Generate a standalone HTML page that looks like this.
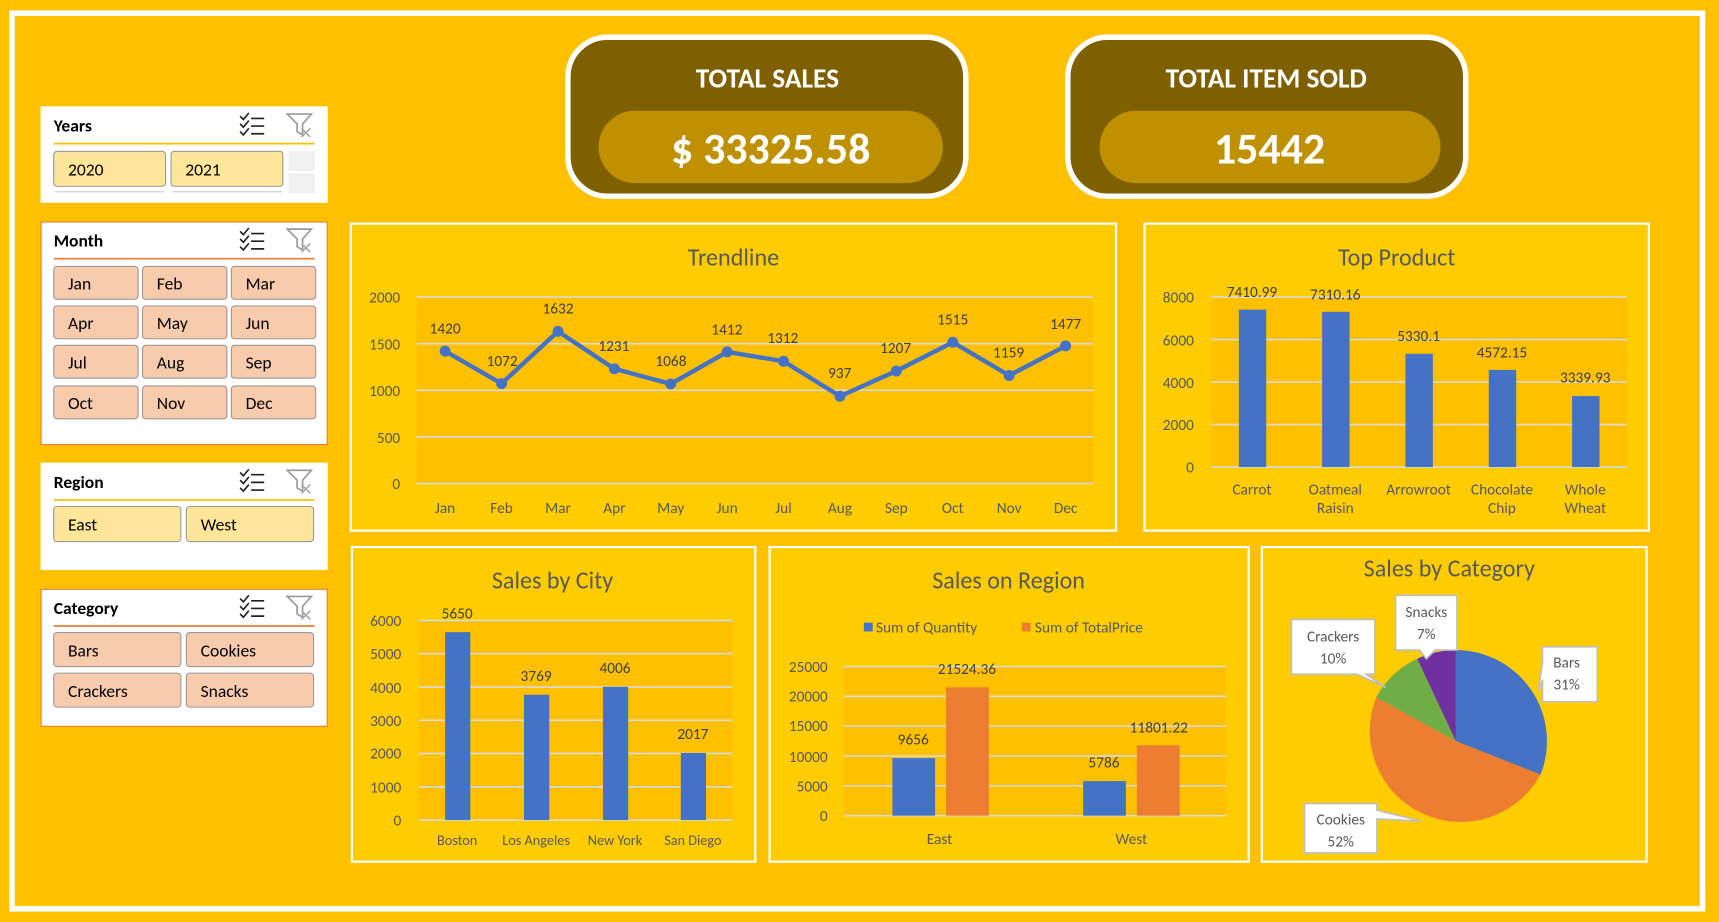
<!DOCTYPE html>
<html><head><meta charset="utf-8"><style>
html,body{margin:0;padding:0;background:#FFC000;}
svg{display:block;font-family:"Carlito","Liberation Sans",sans-serif;}
.ax{font-size:14px;fill:#595959;}
.dl{font-size:14px;fill:#404040;}
.tt{font-size:22px;fill:#595959;text-anchor:middle;}
.st{font-size:16px;font-weight:bold;fill:#000;}
.bt{font-size:16px;fill:#000;}
.g{stroke:#d9d9d9;stroke-width:1.5;}
</style></head><body>
<svg width="1719" height="922" viewBox="0 0 1568 841" xmlns="http://www.w3.org/2000/svg">
<rect x="0" y="0" width="1568" height="841" fill="#FFC000"/>
<rect x="11" y="12" width="1542" height="817" fill="none" stroke="#fff" stroke-width="5"/>

<defs>
<g id="icons">
<path d="M219,106 l3,3 5,-6 M219,113 l3,3 5,-6 M219,120 l3,3 5,-6" stroke="#222" stroke-width="1.5" fill="none"/>
<path d="M229,108 h12 M229,115 h12 M229,122 h12" stroke="#222" stroke-width="1.5"/>
<path d="M262,104 h22 l-8,9 v10 l-5,-3 v-7 z" fill="none" stroke="#999" stroke-width="1.5"/>
<path d="M275,117 l8,8 M283,117 l-8,8" stroke="#aaa" stroke-width="1.5"/>
</g>
</defs>
<rect x="37" y="97" width="262" height="88" fill="#fff"/>
<text x="49" y="120" class="st">Years</text>
<use href="#icons"/>
<line x1="49" y1="131" x2="287" y2="131" stroke="#FFC000" stroke-width="1.5"/>
<rect x="49" y="138" width="102" height="32" rx="3" fill="#FFE699" stroke="#999"/>
<rect x="156" y="138" width="102" height="32" rx="3" fill="#FFE699" stroke="#999"/>
<text x="62" y="160" class="bt">2020</text><text x="169" y="160" class="bt">2021</text>
<line x1="50" y1="175" x2="150" y2="175" stroke="#ccc"/><line x1="157" y1="175" x2="257" y2="175" stroke="#ccc"/>
<rect x="263" y="138" width="24" height="18" fill="#f0f0f0"/><rect x="263" y="158" width="24" height="18" fill="#f0f0f0"/>

<rect x="37.5" y="202.5" width="261" height="203" fill="#fff" stroke="#ED7D31"/>
<text x="49" y="225" class="st">Month</text>
<use href="#icons" y="105"/>
<line x1="49" y1="236" x2="287" y2="236" stroke="#ED7D31" stroke-width="1.5"/>
<g fill="#F8CBAD" stroke="#999">
<rect x="49" y="243" width="77" height="30" rx="3"/><rect x="130" y="243" width="77" height="30" rx="3"/><rect x="211" y="243" width="77" height="30" rx="3"/>
<rect x="49" y="279" width="77" height="30" rx="3"/><rect x="130" y="279" width="77" height="30" rx="3"/><rect x="211" y="279" width="77" height="30" rx="3"/>
<rect x="49" y="315" width="77" height="30" rx="3"/><rect x="130" y="315" width="77" height="30" rx="3"/><rect x="211" y="315" width="77" height="30" rx="3"/>
<rect x="49" y="352" width="77" height="30" rx="3"/><rect x="130" y="352" width="77" height="30" rx="3"/><rect x="211" y="352" width="77" height="30" rx="3"/>
</g>
<g class="bt">
<text x="62" y="264">Jan</text><text x="143" y="264">Feb</text><text x="224" y="264">Mar</text>
<text x="62" y="300">Apr</text><text x="143" y="300">May</text><text x="224" y="300">Jun</text>
<text x="62" y="336">Jul</text><text x="143" y="336">Aug</text><text x="224" y="336">Sep</text>
<text x="62" y="373">Oct</text><text x="143" y="373">Nov</text><text x="224" y="373">Dec</text>
</g>

<rect x="37" y="422" width="262" height="98" fill="#fff"/>
<text x="49" y="445" class="st">Region</text>
<use href="#icons" y="325"/>
<line x1="49" y1="456" x2="287" y2="456" stroke="#FFC000" stroke-width="1.5"/>
<rect x="49" y="462" width="116" height="32" rx="3" fill="#FFE699" stroke="#999"/>
<rect x="170" y="462" width="116" height="32" rx="3" fill="#FFE699" stroke="#999"/>
<text x="62" y="484" class="bt">East</text><text x="183" y="484" class="bt">West</text>

<rect x="37.5" y="537.5" width="261" height="125" fill="#fff" stroke="#ED7D31"/>
<text x="49" y="560" class="st">Category</text>
<use href="#icons" y="440"/>
<line x1="49" y1="571" x2="287" y2="571" stroke="#ED7D31" stroke-width="1.5"/>
<g fill="#F8CBAD" stroke="#999">
<rect x="49" y="577" width="116" height="31" rx="3"/><rect x="170" y="577" width="116" height="31" rx="3"/>
<rect x="49" y="614" width="116" height="31" rx="3"/><rect x="170" y="614" width="116" height="31" rx="3"/>
</g>
<text x="62" y="599" class="bt">Bars</text><text x="183" y="599" class="bt">Cookies</text>
<text x="62" y="636" class="bt">Crackers</text><text x="183" y="636" class="bt">Snacks</text>

<rect x="518" y="34" width="363" height="145" rx="36" fill="#7F6000" stroke="#fff" stroke-width="5"/>
<text x="700" y="80" text-anchor="middle" font-size="25" font-weight="bold" fill="#fff">TOTAL SALES</text>
<rect x="546" y="101" width="314" height="66" rx="33" fill="#BF9000"/>
<text x="703" y="149" text-anchor="middle" font-size="40" font-weight="bold" fill="#fff">$ 33325.58</text>
<rect x="974" y="34" width="363" height="145" rx="36" fill="#7F6000" stroke="#fff" stroke-width="5"/>
<text x="1155" y="80" text-anchor="middle" font-size="25" font-weight="bold" fill="#fff">TOTAL ITEM SOLD</text>
<rect x="1003" y="101" width="311" height="66" rx="33" fill="#BF9000"/>
<text x="1158" y="149" text-anchor="middle" font-size="40" font-weight="bold" fill="#fff">15442</text>

<rect x="320" y="204" width="698" height="280" fill="#FFCC00" stroke="#fff" stroke-width="2"/>
<text x="669" y="242" class="tt">Trendline</text>
<rect x="380" y="271" width="617" height="170" fill="#FFC000"/>
<g class="g"><line x1="380" x2="997" y1="271" y2="271"/><line x1="380" x2="997" y1="313.5" y2="313.5"/><line x1="380" x2="997" y1="356" y2="356"/><line x1="380" x2="997" y1="398.5" y2="398.5"/><line x1="380" x2="997" y1="441" y2="441"/></g>
<g class="ax" text-anchor="end"><text x="365" y="276">2000</text><text x="365" y="319">1500</text><text x="365" y="361">1000</text><text x="365" y="404">500</text><text x="365" y="446">0</text></g>
<g class="ax" text-anchor="middle"><text x="406" y="468">Jan</text><text x="457.5" y="468">Feb</text><text x="509" y="468">Mar</text><text x="560.4" y="468">Apr</text><text x="611.8" y="468">May</text><text x="663.3" y="468">Jun</text><text x="714.7" y="468">Jul</text><text x="766.2" y="468">Aug</text><text x="817.6" y="468">Sep</text><text x="869.1" y="468">Oct</text><text x="920.5" y="468">Nov</text><text x="972" y="468">Dec</text></g>
<polyline fill="none" stroke="#4472C4" stroke-width="4" stroke-linejoin="round" points="406,320.3 457.5,349.9 509,302.3 560.4,336.4 611.8,350.2 663.3,321 714.7,329.5 766.2,361.4 817.6,338.4 869.1,312.2 920.5,342.5 972,315.5"/>
<g fill="#4472C4"><circle cx="406" cy="320.3" r="5"/><circle cx="457.5" cy="349.9" r="5"/><circle cx="509" cy="302.3" r="5"/><circle cx="560.4" cy="336.4" r="5"/><circle cx="611.8" cy="350.2" r="5"/><circle cx="663.3" cy="321" r="5"/><circle cx="714.7" cy="329.5" r="5"/><circle cx="766.2" cy="361.4" r="5"/><circle cx="817.6" cy="338.4" r="5"/><circle cx="869.1" cy="312.2" r="5"/><circle cx="920.5" cy="342.5" r="5"/><circle cx="972" cy="315.5" r="5"/></g>
<g class="dl" text-anchor="middle"><text x="406" y="304">1420</text><text x="458" y="334">1072</text><text x="509" y="286">1632</text><text x="560" y="320">1231</text><text x="612" y="334">1068</text><text x="663" y="305">1412</text><text x="714" y="313">1312</text><text x="766" y="345">937</text><text x="817" y="322">1207</text><text x="869" y="296">1515</text><text x="920" y="326">1159</text><text x="972" y="300">1477</text></g>

<rect x="1044" y="204" width="460" height="280" fill="#FFCC00" stroke="#fff" stroke-width="2"/>
<text x="1274" y="242" class="tt">Top Product</text>
<rect x="1105" y="271" width="379" height="155" fill="#FFC000"/>
<g class="g"><line x1="1105" x2="1484" y1="271" y2="271"/><line x1="1105" x2="1484" y1="309.75" y2="309.75"/><line x1="1105" x2="1484" y1="348.5" y2="348.5"/><line x1="1105" x2="1484" y1="387.25" y2="387.25"/><line x1="1105" x2="1484" y1="426" y2="426"/></g>
<g class="ax" text-anchor="end"><text x="1089" y="276">8000</text><text x="1089" y="315">6000</text><text x="1089" y="354">4000</text><text x="1089" y="392">2000</text><text x="1089" y="431">0</text></g>
<g fill="#4472C4"><rect x="1130" y="282.4" width="25" height="143.6"/><rect x="1206" y="284.4" width="25" height="141.6"/><rect x="1282" y="322.7" width="25" height="103.3"/><rect x="1358" y="337.4" width="25" height="88.6"/><rect x="1434" y="361.3" width="25" height="64.7"/></g>
<g class="dl" text-anchor="middle"><text x="1142" y="271">7410.99</text><text x="1218" y="273">7310.16</text><text x="1294" y="311">5330.1</text><text x="1370" y="326">4572.15</text><text x="1446" y="349">3339.93</text></g>
<g class="ax" text-anchor="middle"><text x="1142" y="451">Carrot</text><text x="1218" y="451">Oatmeal</text><text x="1218" y="468">Raisin</text><text x="1294" y="451">Arrowroot</text><text x="1370" y="451">Chocolate</text><text x="1370" y="468">Chip</text><text x="1446" y="451">Whole</text><text x="1446" y="468">Wheat</text></g>

<rect x="321" y="499" width="368" height="287" fill="#FFCC00" stroke="#fff" stroke-width="2"/>
<text x="504" y="537" class="tt">Sales by City</text>
<rect x="382" y="566" width="286" height="182" fill="#FFC000"/>
<g class="g"><line x1="382" x2="668" y1="566" y2="566"/><line x1="382" x2="668" y1="596.3" y2="596.3"/><line x1="382" x2="668" y1="626.7" y2="626.7"/><line x1="382" x2="668" y1="657" y2="657"/><line x1="382" x2="668" y1="687.3" y2="687.3"/><line x1="382" x2="668" y1="717.7" y2="717.7"/><line x1="382" x2="668" y1="748" y2="748"/></g>
<g class="ax" text-anchor="end"><text x="366" y="571">6000</text><text x="366" y="601">5000</text><text x="366" y="632">4000</text><text x="366" y="662">3000</text><text x="366" y="692">2000</text><text x="366" y="723">1000</text><text x="366" y="753">0</text></g>
<g fill="#4472C4"><rect x="406" y="576.6" width="23" height="171.4"/><rect x="478" y="633.7" width="23" height="114.3"/><rect x="550" y="626.5" width="23" height="121.5"/><rect x="621" y="686.8" width="23" height="61.2"/></g>
<g class="dl" text-anchor="middle"><text x="417" y="564">5650</text><text x="489" y="621">3769</text><text x="561" y="614">4006</text><text x="632" y="674">2017</text></g>
<g class="ax" text-anchor="middle" style="font-size:13px"><text x="417" y="771">Boston</text><text x="489" y="771">Los Angeles</text><text x="561" y="771">New York</text><text x="632" y="771">San Diego</text></g>

<rect x="702" y="499" width="437" height="287" fill="#FFCC00" stroke="#fff" stroke-width="2"/>
<text x="920" y="537" class="tt">Sales on Region</text>
<rect x="788" y="568" width="8" height="8" fill="#4472C4"/><text x="799" y="577" class="ax">Sum of Quantity</text>
<rect x="932" y="568" width="8" height="8" fill="#ED7D31"/><text x="944" y="577" class="ax">Sum of TotalPrice</text>
<rect x="770" y="608" width="348" height="136" fill="#FFC000"/>
<g class="g"><line x1="770" x2="1118" y1="608" y2="608"/><line x1="770" x2="1118" y1="635.2" y2="635.2"/><line x1="770" x2="1118" y1="662.4" y2="662.4"/><line x1="770" x2="1118" y1="689.6" y2="689.6"/><line x1="770" x2="1118" y1="716.8" y2="716.8"/><line x1="770" x2="1118" y1="744" y2="744"/></g>
<g class="ax" text-anchor="end"><text x="755" y="613">25000</text><text x="755" y="640">20000</text><text x="755" y="667">15000</text><text x="755" y="695">10000</text><text x="755" y="722">5000</text><text x="755" y="749">0</text></g>
<rect x="814" y="691.5" width="39" height="52.5" fill="#4472C4"/><rect x="863" y="626.9" width="39" height="117.1" fill="#ED7D31"/>
<rect x="988" y="712.5" width="39" height="31.5" fill="#4472C4"/><rect x="1037" y="679.8" width="39" height="64.2" fill="#ED7D31"/>
<g class="dl" text-anchor="middle"><text x="833" y="679">9656</text><text x="882" y="615">21524.36</text><text x="1007" y="700">5786</text><text x="1057" y="668">11801.22</text></g>
<g class="ax" text-anchor="middle"><text x="857" y="770">East</text><text x="1032" y="770">West</text></g>

<rect x="1151" y="499" width="351" height="287" fill="#FFCC00" stroke="#fff" stroke-width="2"/>
<text x="1322" y="526" class="tt">Sales by Category</text>
<path d="M1328,676 L1328,593 A83,83 0 0 1 1405.2,706.6 Z" fill="#4472C4"/>
<path d="M1328,676 L1405.2,706.6 A83,83 0 0 1 1255.3,636 Z" fill="#ED7D31"/>
<path d="M1328,676 L1255.3,636 A83,83 0 0 1 1292.7,600.9 Z" fill="#70AD47"/>
<path d="M1328,676 L1292.7,600.9 A83,83 0 0 1 1328,593 Z" fill="#7030A0"/>
<g fill="#fff" stroke="#bfbfbf" stroke-width="1.5">
<path d="M1178,565 h76 v50 h-8 l18,12 -26,-12 h-60 z"/>
<path d="M1273,543 h56 v50 h-20 l-8,8 -6,-8 h-22 z"/>
<path d="M1407,590 h50 v50 h-50 v-20 l-4,10 4,-25 z"/>
<path d="M1190,733 h66 v6 l40,10 -40,-2 v31 h-66 z"/>
</g>
<g class="ax" text-anchor="middle"><text x="1216" y="585">Crackers</text><text x="1216" y="605">10%</text><text x="1301" y="563">Snacks</text><text x="1301" y="583">7%</text><text x="1429" y="609">Bars</text><text x="1429" y="629">31%</text><text x="1223" y="752">Cookies</text><text x="1223" y="772">52%</text></g>
</svg>
</body></html>
